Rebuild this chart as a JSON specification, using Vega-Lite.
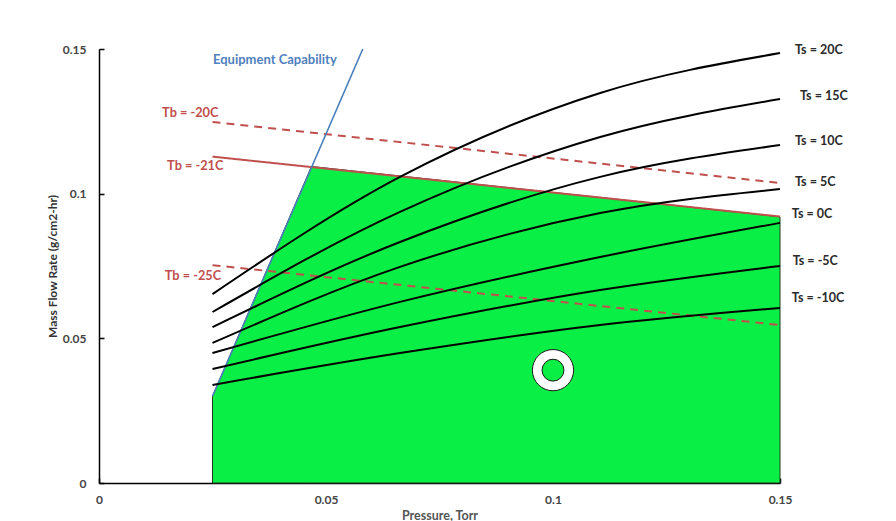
{
  "$schema": "https://vega.github.io/schema/vega-lite/v6.json",
  "width": 681,
  "height": 434,
  "autosize": {"type": "none"},
  "padding": {"left": 99, "top": 49, "right": 116, "bottom": 38},
  "background": "white",
  "config": {"view": {"stroke": null}, "font": "Lato"},
  "datasets": {
    "region": [
      {"x": 0.025, "y": 0.030},
      {"x": 0.0468, "y": 0.1094},
      {"x": 0.15, "y": 0.092}
    ],
    "capability": [
      {"x": 0.025, "y": 0.030},
      {"x": 0.0581, "y": 0.150}
    ],
    "tb": [
      {"series": "Tb = -20C", "x": 0.025, "y": 0.1248},
      {"series": "Tb = -20C", "x": 0.15, "y": 0.1037},
      {"series": "Tb = -21C", "x": 0.025, "y": 0.1128},
      {"series": "Tb = -21C", "x": 0.15, "y": 0.0921},
      {"series": "Tb = -25C", "x": 0.025, "y": 0.0753},
      {"series": "Tb = -25C", "x": 0.15, "y": 0.0546}
    ],
    "ts": [
      {"series": "Ts = 20C", "x": 0.025, "y": 0.0653},
      {"series": "Ts = 20C", "x": 0.0663, "y": 0.1058},
      {"series": "Ts = 20C", "x": 0.1104, "y": 0.1348},
      {"series": "Ts = 20C", "x": 0.15, "y": 0.1486},
      {"series": "Ts = 15C", "x": 0.025, "y": 0.0591},
      {"series": "Ts = 15C", "x": 0.0663, "y": 0.0937},
      {"series": "Ts = 15C", "x": 0.1104, "y": 0.1196},
      {"series": "Ts = 15C", "x": 0.15, "y": 0.1327},
      {"series": "Ts = 10C", "x": 0.025, "y": 0.0539},
      {"series": "Ts = 10C", "x": 0.0663, "y": 0.0833},
      {"series": "Ts = 10C", "x": 0.1104, "y": 0.1058},
      {"series": "Ts = 10C", "x": 0.15, "y": 0.1168},
      {"series": "Ts = 5C", "x": 0.025, "y": 0.0484},
      {"series": "Ts = 5C", "x": 0.0663, "y": 0.0747},
      {"series": "Ts = 5C", "x": 0.1104, "y": 0.0933},
      {"series": "Ts = 5C", "x": 0.15, "y": 0.1016},
      {"series": "Ts = 0C", "x": 0.025, "y": 0.0449},
      {"series": "Ts = 0C", "x": 0.0663, "y": 0.0626},
      {"series": "Ts = 0C", "x": 0.1104, "y": 0.0781},
      {"series": "Ts = 0C", "x": 0.15, "y": 0.0899},
      {"series": "Ts = -5C", "x": 0.025, "y": 0.0394},
      {"series": "Ts = -5C", "x": 0.0663, "y": 0.0539},
      {"series": "Ts = -5C", "x": 0.1104, "y": 0.0667},
      {"series": "Ts = -5C", "x": 0.15, "y": 0.0750},
      {"series": "Ts = -10C", "x": 0.025, "y": 0.0339},
      {"series": "Ts = -10C", "x": 0.0663, "y": 0.0449},
      {"series": "Ts = -10C", "x": 0.1104, "y": 0.0546},
      {"series": "Ts = -10C", "x": 0.15, "y": 0.0605}
    ],
    "operating": [
      {"x": 0.1, "y": 0.039}
    ],
    "labels": [
      {"group": "Ts", "text": "Ts = 20C", "x": 0.1533, "y": 0.1497},
      {"group": "Ts", "text": "Ts = 15C", "x": 0.1544, "y": 0.1338},
      {"group": "Ts", "text": "Ts = 10C", "x": 0.1533, "y": 0.1182},
      {"group": "Ts", "text": "Ts = 5C", "x": 0.1533, "y": 0.1040},
      {"group": "Ts", "text": "Ts = 0C", "x": 0.1526, "y": 0.0930},
      {"group": "Ts", "text": "Ts = -5C", "x": 0.1528, "y": 0.0767},
      {"group": "Ts", "text": "Ts = -10C", "x": 0.1526, "y": 0.0640},
      {"group": "Tb", "text": "Tb = -20C", "x": 0.0139, "y": 0.1279},
      {"group": "Tb", "text": "Tb = -21C", "x": 0.0150, "y": 0.1096},
      {"group": "Tb", "text": "Tb = -25C", "x": 0.0145, "y": 0.0716},
      {"group": "Equipment", "text": "Equipment Capability", "x": 0.0251, "y": 0.1462}
    ]
  },
  "encoding": {
    "x": {
      "field": "x",
      "type": "quantitative",
      "scale": {"domain": [0, 0.15], "nice": false, "zero": false},
      "axis": {
        "values": [0, 0.05, 0.1, 0.15],
        "format": ".2~f",
        "title": "Pressure, Torr",
        "titleFont": "Lato",
        "titleFontSize": 12.5,
        "titleFontWeight": "bold",
        "titleColor": "#555555",
        "titlePadding": 4,
        "grid": false,
        "domainColor": "#000000",
        "domainWidth": 1.5,
        "tickColor": "#000000",
        "tickWidth": 1.5,
        "tickSize": -5,
        "labelPadding": 16,
        "labelFont": "Lato",
        "labelFontSize": 12,
        "labelFontWeight": "bold",
        "labelColor": "#444444",
        "labelFlush": false
      }
    },
    "y": {
      "field": "y",
      "type": "quantitative",
      "scale": {"domain": [0, 0.15], "nice": false, "zero": false},
      "axis": {
        "values": [0, 0.05, 0.1, 0.15],
        "format": ".2~f",
        "title": "Mass Flow Rate (g/cm2-hr)",
        "titleFont": "Lato",
        "titleFontSize": 12,
        "titleFontWeight": "bold",
        "titleColor": "#333333",
        "titlePadding": 3,
        "grid": false,
        "domainColor": "#000000",
        "domainWidth": 1.5,
        "tickColor": "#000000",
        "tickWidth": 1.5,
        "tickSize": -5,
        "labelPadding": 18,
        "labelFont": "Lato",
        "labelFontSize": 12,
        "labelFontWeight": "bold",
        "labelColor": "#444444",
        "labelFlush": false
      }
    }
  },
  "layer": [
    {
      "data": {"name": "region"},
      "mark": {"type": "area", "color": "#0aef46", "stroke": "#1f3a1f", "strokeWidth": 1},
      "encoding": {"y2": {"datum": 0}}
    },
    {
      "data": {"name": "tb"},
      "mark": {"type": "line", "color": "#c0504d", "strokeWidth": 2},
      "encoding": {
        "detail": {"field": "series"},
        "strokeDash": {
          "field": "series",
          "scale": {"domain": ["Tb = -20C", "Tb = -21C", "Tb = -25C"], "range": [[8, 6], [1, 0], [8, 6]]},
          "legend": null
        }
      }
    },
    {
      "data": {"name": "capability"},
      "mark": {"type": "line", "color": "#4a7ebb", "strokeWidth": 1.6},
      "encoding": {}
    },
    {
      "data": {"name": "ts"},
      "mark": {"type": "line", "color": "#000000", "strokeWidth": 2, "interpolate": "monotone"},
      "encoding": {"detail": {"field": "series"}}
    },
    {
      "data": {"name": "operating"},
      "mark": {"type": "point", "shape": "circle", "filled": true, "fill": "#ffffff", "stroke": "#1a1a1a", "strokeWidth": 1, "opacity": 1, "size": 1700},
      "encoding": {}
    },
    {
      "data": {"name": "operating"},
      "mark": {"type": "point", "shape": "circle", "filled": true, "fill": "#0aef46", "stroke": "#1a1a1a", "strokeWidth": 1, "opacity": 1, "size": 480},
      "encoding": {}
    },
    {
      "data": {"name": "labels"},
      "mark": {"type": "text", "align": "left", "baseline": "middle", "font": "Lato", "fontWeight": "bold", "clip": false},
      "encoding": {
        "text": {"field": "text"},
        "color": {
          "field": "group",
          "scale": {"domain": ["Ts", "Tb", "Equipment"], "range": ["#2b2b2b", "#c0504d", "#4f81bd"]},
          "legend": null
        },
        "size": {
          "field": "group",
          "type": "nominal",
          "scale": {"domain": ["Ts", "Tb", "Equipment"], "range": [12.5, 13, 14]},
          "legend": null
        }
      }
    }
  ]
}
